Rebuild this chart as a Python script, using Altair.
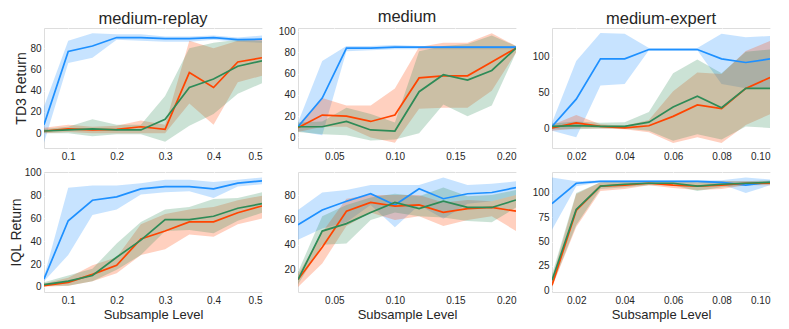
import altair as alt
import pandas as pd

FONT = "Liberation Sans"
TEXT = "#262626"
SERIES = ["blue", "orange", "green"]
COLORS = ["#1E90FF", "#FF4500", "#2E8B57"]

# x values
x_mr = [0.05, 0.10, 0.15, 0.20, 0.25, 0.30, 0.35, 0.40, 0.45, 0.50]
x_m = [0.02, 0.04, 0.06, 0.08, 0.10, 0.12, 0.14, 0.16, 0.18, 0.20]
x_me = [0.01, 0.02, 0.03, 0.04, 0.05, 0.06, 0.07, 0.08, 0.09, 0.10]

# TD3 medium-replay
td3_mr_blue = [8, 77, 82, 90, 90, 89, 89, 90, 88, 88.5]
td3_mr_blue_lo = [-9, 66, 71, 88, 87, 86, 86, 88, 86, 85]
td3_mr_blue_hi = [25, 87, 94, 93, 93, 91, 91, 92, 90, 92]
td3_mr_orange = [2, 4, 3, 3.5, 6, 3.5, 57, 43, 67, 71]
td3_mr_orange_lo = [0, 1, 0, 0, 0, 0, 28, 8, 48, 54]
td3_mr_orange_hi = [5, 8, 6, 7, 12, 8, 87, 80, 87, 88]
td3_mr_green = [2, 3, 4, 3, 3, 13, 43, 51, 63, 68]
td3_mr_green_lo = [0, 0, -3, -1, -1, -8, 7, 18, 37, 47]
td3_mr_green_hi = [4, 6, 13, 8, 8, 35, 80, 85, 88, 87]

# TD3 medium
td3_m_blue = [10, 37, 84, 84, 85, 85, 85, 85, 85, 85]
td3_m_blue_lo = [6, 2, 81, 82, 83, 83, 83, 83, 83, 83]
td3_m_blue_hi = [14, 72, 86, 86, 87, 86, 86, 86, 86, 86]
td3_m_orange = [9, 21, 20, 15, 21, 56, 58, 58, 71, 84]
td3_m_orange_lo = [5, 10, 10, 0, -5, 27, 28, 28, 44, 80]
td3_m_orange_hi = [12, 37, 30, 30, 46, 85, 89, 89, 98, 86]
td3_m_green = [10, 10, 15, 7, 6, 43, 59, 54, 63, 84]
td3_m_green_lo = [5, 3, 2, -3, -2, 4, 31, 20, 30, 80]
td3_m_green_hi = [14, 15, 28, 22, 14, 81, 86, 88, 96, 86]

# TD3 medium-expert
td3_me_blue = [3, 41, 97, 97, 110, 110, 110, 97, 92, 97]
td3_me_blue_lo = [-3, -12, 60, 62, 109, 109, 109, 62, 56, 57]
td3_me_blue_hi = [8, 94, 133, 132, 112, 112, 112, 132, 127, 129]
td3_me_orange = [1, 8, 3, 1, 4, 17, 33, 28, 56, 71]
td3_me_orange_lo = [-3, 0, 0, -1, -5, -20, -12, -20, 5, 20]
td3_me_orange_hi = [5, 19, 6, 4, 12, 52, 78, 76, 108, 122]
td3_me_green = [3, 4, 3, 3, 9, 30, 45, 29, 56, 56]
td3_me_green_lo = [-1, -1, 0, 0, -3, -17, -8, -15, 3, 1]
td3_me_green_hi = [7, 10, 8, 9, 23, 77, 96, 77, 107, 110]

# IQL medium-replay
iql_mr_blue = [7, 58, 76, 79, 86, 88, 88, 86, 91, 93]
iql_mr_blue_lo = [5, 28, 63, 68, 81, 83, 84, 78, 88, 90]
iql_mr_blue_hi = [9, 87, 89, 89, 91, 94, 94, 92, 94, 96]
iql_mr_orange = [1, 4, 11, 19, 42, 49, 57, 57, 65, 71]
iql_mr_orange_lo = [0, 1, 5, 12, 28, 33, 46, 44, 55, 60]
iql_mr_orange_hi = [3, 8, 19, 26, 55, 64, 68, 70, 76, 80]
iql_mr_green = [2, 5, 10, 26, 41, 59, 59, 62, 69, 73]
iql_mr_green_lo = [1, 1, 5, 15, 28, 49, 50, 47, 58, 65]
iql_mr_green_hi = [4, 10, 16, 38, 57, 68, 70, 77, 78, 83]

# IQL medium
iql_m_blue = [56, 68, 75, 81, 72, 85, 77, 81, 82, 86]
iql_m_blue_lo = [44, 53, 58, 72, 54, 72, 61, 73, 75, 80]
iql_m_blue_hi = [68, 82, 84, 88, 88, 88, 94, 88, 89, 91]
iql_m_orange = [12, 38, 67, 74, 71, 72, 66, 69, 70, 67]
iql_m_orange_lo = [6, 25, 55, 66, 60, 63, 55, 60, 63, 51]
iql_m_orange_hi = [16, 50, 77, 80, 80, 80, 74, 76, 75, 80]
iql_m_green = [12, 51, 57, 66, 74, 69, 75, 70, 70, 76]
iql_m_green_lo = [8, 40, 41, 60, 66, 63, 62, 59, 58, 70]
iql_m_green_hi = [18, 63, 72, 78, 81, 79, 86, 79, 80, 84]

# IQL medium-expert
iql_me_blue = [89, 110, 112, 112, 112, 112, 112, 111, 108, 111]
iql_me_blue_lo = [62, 107, 111, 111, 111, 111, 111, 109, 100, 108]
iql_me_blue_hi = [116, 112, 113, 113, 113, 113, 113, 113, 116, 114]
iql_me_orange = [5, 82, 107, 108, 110, 108, 107, 108, 110, 110]
iql_me_orange_lo = [3, 65, 102, 104, 108, 105, 103, 104, 108, 108]
iql_me_orange_hi = [12, 99, 111, 112, 112, 112, 111, 112, 112, 112]
iql_me_green = [10, 83, 107, 109, 110, 110, 107, 109, 110, 111]
iql_me_green_lo = [4, 67, 104, 106, 108, 108, 102, 106, 108, 109]
iql_me_green_hi = [16, 100, 111, 112, 112, 112, 111, 112, 112, 113]

# axis ticks
xt_mr = [0.1, 0.2, 0.3, 0.4, 0.5]
xt_m = [0.05, 0.10, 0.15, 0.20]
xt_me = [0.02, 0.04, 0.06, 0.08, 0.10]
yt_td3_mr = [0, 20, 40, 60, 80]
yt_td3_m = [0, 20, 40, 60, 80, 100]
yt_td3_me = [0, 50, 100]
yt_iql_mr = [0, 20, 40, 60, 80, 100]
yt_iql_m = [20, 40, 60, 80]
yt_iql_me = [0, 25, 50, 75, 100]

AX = dict(grid=True, gridColor="white", gridWidth=1, domain=False, ticks=False,
          labelFont=FONT, labelFontSize=10, labelColor=TEXT, labelPadding=3,
          titleFont=FONT, titleFontWeight="normal", titleColor=TEXT)


def panel(x, series, xdom, xticks, xfmt, ydom, yticks, title=None, ytitle=None, xtitle=None):
    rows = []
    for name, (m, lo, hi) in zip(SERIES, series):
        for xi, mi, l, h in zip(x, m, lo, hi):
            rows.append({"x": xi, "series": name, "mean": mi, "lo": l, "hi": h})
    df = pd.DataFrame(rows)
    if xtitle:
        xaxis = alt.Axis(values=xticks, format=xfmt, title=xtitle, titleFontSize=13,
                         titlePadding=3, **AX)
    else:
        xaxis = alt.Axis(values=xticks, format=xfmt, title=None, **AX)
    if ytitle:
        yaxis = alt.Axis(values=yticks, title=ytitle, titleFontSize=14, titlePadding=1, **AX)
    else:
        yaxis = alt.Axis(values=yticks, title=None, **AX)
    xenc = alt.X("x:Q", scale=alt.Scale(domain=xdom, nice=False, zero=False), axis=xaxis)
    yscale = alt.Scale(domain=ydom, nice=False, zero=False)
    color = alt.Color("series:N", scale=alt.Scale(domain=SERIES, range=COLORS), legend=None)
    band = alt.Chart(df).mark_area(opacity=0.25, clip=True).encode(
        x=xenc, y=alt.Y("lo:Q", scale=yscale, axis=yaxis), y2="hi:Q", color=color
    )
    line = alt.Chart(df).mark_line(strokeWidth=1.7, clip=True).encode(
        x=xenc, y=alt.Y("mean:Q", scale=yscale, axis=yaxis), color=color
    )
    props = dict(width=218, height=120)
    if title:
        props["title"] = alt.TitleParams(title, fontSize=16.5, font=FONT, fontWeight="normal",
                                         color=TEXT, offset=1)
    return alt.layer(band, line).properties(**props)


p1 = panel(x_mr, [(td3_mr_blue, td3_mr_blue_lo, td3_mr_blue_hi),
                  (td3_mr_orange, td3_mr_orange_lo, td3_mr_orange_hi),
                  (td3_mr_green, td3_mr_green_lo, td3_mr_green_hi)],
           [0.05, 0.5], xt_mr, ".1f", [-14, 99], yt_td3_mr,
           title="medium-replay", ytitle="TD3 Return")
p2 = panel(x_m, [(td3_m_blue, td3_m_blue_lo, td3_m_blue_hi),
                 (td3_m_orange, td3_m_orange_lo, td3_m_orange_hi),
                 (td3_m_green, td3_m_green_lo, td3_m_green_hi)],
           [0.02, 0.2], xt_m, ".2f", [-10, 103], yt_td3_m, title="medium")
p3 = panel(x_me, [(td3_me_blue, td3_me_blue_lo, td3_me_blue_hi),
                  (td3_me_orange, td3_me_orange_lo, td3_me_orange_hi),
                  (td3_me_green, td3_me_green_lo, td3_me_green_hi)],
           [0.01, 0.1], xt_me, ".2f", [-27, 140], yt_td3_me, title="medium-expert")
p4 = panel(x_mr, [(iql_mr_blue, iql_mr_blue_lo, iql_mr_blue_hi),
                  (iql_mr_orange, iql_mr_orange_lo, iql_mr_orange_hi),
                  (iql_mr_green, iql_mr_green_lo, iql_mr_green_hi)],
           [0.05, 0.5], xt_mr, ".1f", [-4.5, 100.8], yt_iql_mr,
           ytitle="IQL Return", xtitle="Subsample Level")
p5 = panel(x_m, [(iql_m_blue, iql_m_blue_lo, iql_m_blue_hi),
                 (iql_m_orange, iql_m_orange_lo, iql_m_orange_hi),
                 (iql_m_green, iql_m_green_lo, iql_m_green_hi)],
           [0.02, 0.2], xt_m, ".2f", [2, 98.5], yt_iql_m, xtitle="Subsample Level")
p6 = panel(x_me, [(iql_me_blue, iql_me_blue_lo, iql_me_blue_hi),
                  (iql_me_orange, iql_me_orange_lo, iql_me_orange_hi),
                  (iql_me_green, iql_me_green_lo, iql_me_green_hi)],
           [0.01, 0.1], xt_me, ".2f", [-2, 121.6], yt_iql_me, xtitle="Subsample Level")

chart = alt.concat(
    p1, p2, p3, p4, p5, p6, columns=3, spacing={"row": 24, "column": 36}, bounds="flush"
).resolve_scale(x="independent", y="independent", color="shared").configure_view(
    fill="#EAEAF2", stroke=None
).configure(background="white", padding=0)

chart.save("out.html", embed_options={"renderer": "svg", "actions": False})
